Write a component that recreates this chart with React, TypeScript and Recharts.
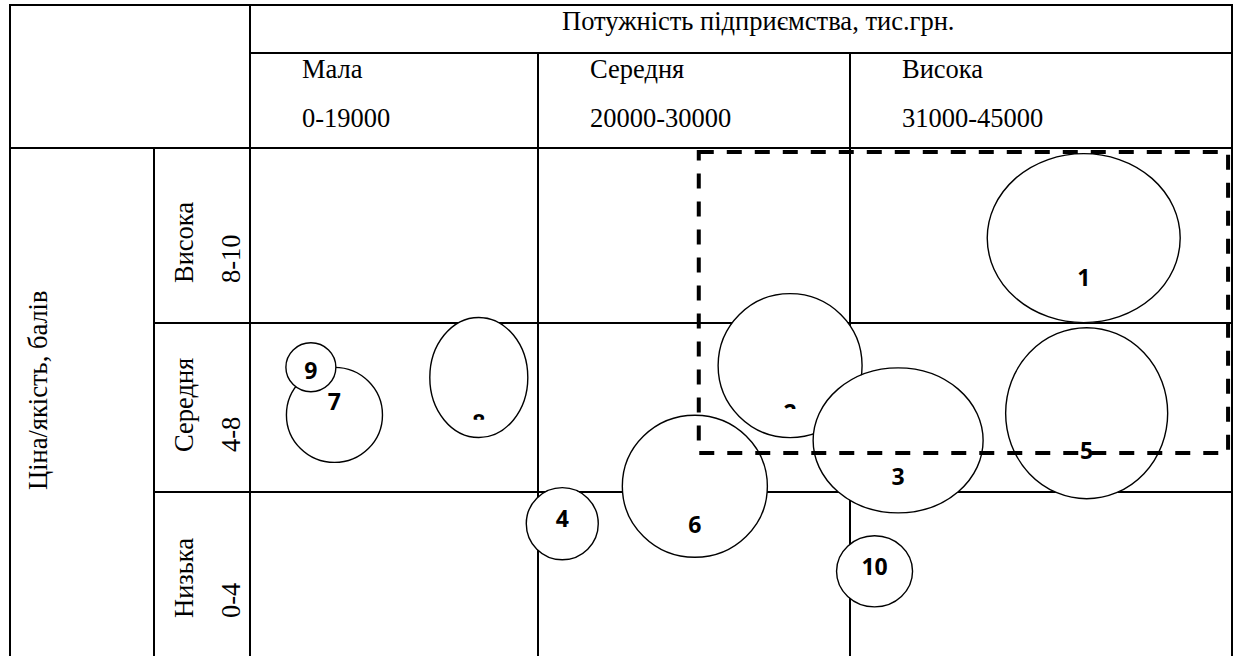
import React from 'react';
import { ScatterChart, Scatter, XAxis, YAxis, ReferenceArea } from 'recharts';

// Bubble ids, and where each one sits in the matrix.
// x: position along "Потужність" (0..10 across the three columns)
// y: position along "Ціна/якість" (0..3, one unit per row)
const ids = ['1', '2', '3', '4', '5', '6', '7', '8', '9', '10'];
const capacity = [8.49, 5.5, 6.6, 3.18, 8.52, 4.53, 0.86, 2.33, 0.62, 6.36];
const quality = [2.47, 1.72, 1.28, 0.79, 1.44, 1.01, 1.43, 1.65, 1.71, 0.51];
// bubble extent in axis units (width along x, height along y)
const spreadX = [1.965, 1.466, 1.731, 0.733, 1.65, 1.477, 0.978, 0.998, 0.509, 0.774];
const spreadY = [0.994, 0.847, 0.853, 0.424, 1.006, 0.835, 0.559, 0.706, 0.288, 0.418];

// strategic zone (dashed frame)
const zoneX = [4.57, 9.96];
const zoneY = [1.206, 2.976];

const headerTitle = 'Потужність підприємства, тис.грн.';
const columnNames = ['Мала', 'Середня', 'Висока'];
const columnRanges = ['0-19000', '20000-30000', '31000-45000'];
const rowTitle = 'Ціна/якість, балів';
const rowNames = ['Висока', 'Середня', 'Низька'];
const rowRanges = ['8-10', '4-8', '0-4'];

const bubbles = ids.map((id, i) => ({
  id,
  x: capacity[i],
  y: quality[i],
  w: spreadX[i],
  h: spreadY[i],
}));

// the page has an 8px body margin; the table starts right at the edge
if (typeof document !== 'undefined') document.body.style.margin = '0';

// layout
const W = 1235;
const H = 656;
const PLOT_LEFT = 250;
const PLOT_TOP = 148;
const PLOT_RIGHT = 1232;
const PLOT_BOTTOM = 658;
const X_MAX = 10;
const Y_MAX = 3;
const PX_X = (PLOT_RIGHT - PLOT_LEFT) / X_MAX;
const PX_Y = (PLOT_BOTTOM - PLOT_TOP) / Y_MAX;

const colLines = [538, 850];
const rowLines = [323, 492];
const colTextX = [302, 590, 902];
const rowTextStart = [283, 452, 618];

// label placement inside bubbles (px below centre), some are cut off like in the source
const labelDy: Record<string, number> = {
  '1': 39.5, '2': 47.5, '3': 36.5, '4': -5, '5': 37.5,
  '6': 38, '7': -13.5, '8': 45.5, '9': 3.5, '10': -4.5,
};
const labelVisible: Record<string, number> = { '2': 4, '8': 5 };

const serif = 'Liberation Serif, DejaVu Serif, serif';
const sans = 'Open Sans, Noto Sans, sans-serif';
const LABEL_SIZE = 23;
const CAP = LABEL_SIZE * 0.714;
const serifText = { fontFamily: serif, fontSize: 26.5, fill: '#000' };

const Bubble = (props: any) => {
  const { cx, cy, payload } = props;
  const rx = (payload.w * PX_X) / 2;
  const ry = (payload.h * PX_Y) / 2;
  const mid = cy + labelDy[payload.id];
  const vis = labelVisible[payload.id];
  const clipId = `lbl-${payload.id}`;
  return (
    <g>
      <ellipse cx={cx} cy={cy} rx={rx} ry={ry} fill="#fff" stroke="#000" strokeWidth={1.4} />
      {vis !== undefined && (
        <defs>
          <clipPath id={clipId}>
            <rect x={cx - 20} y={mid - CAP / 2 - 2} width={40} height={vis + 2} />
          </clipPath>
        </defs>
      )}
      <text
        x={cx}
        y={mid + CAP / 2}
        textAnchor="middle"
        style={{ fontFamily: sans, fontWeight: 700, fontSize: LABEL_SIZE, fill: '#000' }}
        clipPath={vis !== undefined ? `url(#${clipId})` : undefined}
      >
        {payload.id}
      </text>
    </g>
  );
};

const Table = () => {
  const line = { stroke: '#000', strokeWidth: 2 };
  return (
    <svg width={W} height={H} style={{ position: 'absolute', left: 0, top: 0 }}>
      <line x1={10} y1={5} x2={10} y2={H} {...line} />
      <line x1={PLOT_RIGHT} y1={5} x2={PLOT_RIGHT} y2={H} {...line} />
      <line x1={9} y1={5} x2={PLOT_RIGHT + 1} y2={5} {...line} />
      <line x1={PLOT_LEFT} y1={53} x2={PLOT_RIGHT} y2={53} {...line} />
      <line x1={10} y1={PLOT_TOP} x2={PLOT_RIGHT} y2={PLOT_TOP} {...line} />
      <line x1={PLOT_LEFT} y1={5} x2={PLOT_LEFT} y2={H} {...line} />
      <line x1={154} y1={PLOT_TOP} x2={154} y2={H} {...line} />
      {colLines.map((x) => (
        <line key={x} x1={x} y1={53} x2={x} y2={H} {...line} />
      ))}
      {rowLines.map((y) => (
        <line key={y} x1={154} y1={y} x2={PLOT_RIGHT} y2={y} {...line} />
      ))}

      <text x={562} y={30} style={serifText}>{headerTitle}</text>
      {columnNames.map((n, i) => (
        <text key={n} x={colTextX[i]} y={78} style={serifText}>{n}</text>
      ))}
      {columnRanges.map((r, i) => (
        <text key={r} x={colTextX[i]} y={127} style={serifText}>{r}</text>
      ))}
      <text transform="translate(47,490) rotate(-90)" style={serifText}>{rowTitle}</text>
      {rowNames.map((n, i) => (
        <text key={n} transform={`translate(193,${rowTextStart[i]}) rotate(-90)`} style={serifText}>{n}</text>
      ))}
      {rowRanges.map((r, i) => (
        <text key={r} transform={`translate(240,${rowTextStart[i]}) rotate(-90)`} style={serifText}>{r}</text>
      ))}
    </svg>
  );
};

export default function App() {
  return (
    <div style={{ position: 'relative', width: W, height: H, overflow: 'hidden', background: '#fff' }}>
      <Table />
      <div style={{ position: 'absolute', left: 0, top: 0 }}>
        <ScatterChart
          width={W}
          height={PLOT_BOTTOM}
          margin={{ top: PLOT_TOP, left: PLOT_LEFT, right: W - PLOT_RIGHT, bottom: 0 }}
        >
          <XAxis type="number" dataKey="x" domain={[0, X_MAX]} hide allowDataOverflow />
          <YAxis type="number" dataKey="y" domain={[0, Y_MAX]} hide allowDataOverflow />
          <Scatter data={bubbles} shape={Bubble} isAnimationActive={false} />
          <ReferenceArea
            x1={zoneX[0]}
            x2={zoneX[1]}
            y1={zoneY[0]}
            y2={zoneY[1]}
            fill="none"
            fillOpacity={0}
            stroke="#000"
            strokeWidth={4}
            strokeDasharray="15 13"
            ifOverflow="visible"
            zIndex={2000}
          />
        </ScatterChart>
      </div>
    </div>
  );
}
